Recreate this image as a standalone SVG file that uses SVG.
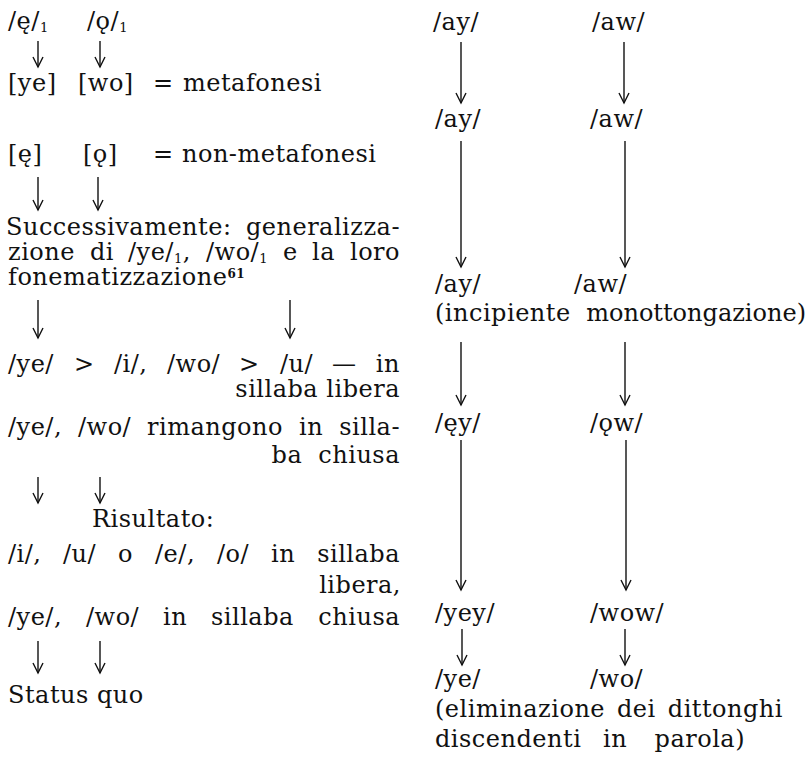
<svg xmlns="http://www.w3.org/2000/svg" width="810" height="775" viewBox="0 0 810 775">
<style>
text{font-family:"DejaVu Serif","Liberation Serif",serif;font-size:24px;letter-spacing:0.5px;fill:#111}
.e{text-anchor:end}
.tight{letter-spacing:0}
.sub{font-size:13px}
.sup{font-size:12px;font-weight:bold}
#connectors line{stroke:#111;stroke-width:1.4;fill:none;marker-end:url(#ah)}
</style>
<defs>
<marker id="ah" markerUnits="userSpaceOnUse" markerWidth="14" markerHeight="14" viewBox="-12 -7 14 14" refX="0" refY="0" orient="auto" overflow="visible">
<path d="M-10,-5 L0,0 L-10,5" fill="none" stroke="#111" stroke-width="1.4"/>
</marker>
</defs>
<rect width="810" height="775" fill="#fff"/>

<g id="connectors">
<line x1="38" y1="41" x2="38" y2="67"/>
<line x1="100" y1="41" x2="100" y2="67"/>
<line x1="38" y1="177" x2="38" y2="210"/>
<line x1="98" y1="177" x2="98" y2="210"/>
<line x1="38" y1="300" x2="38" y2="338"/>
<line x1="290" y1="300" x2="290" y2="338"/>
<line x1="38" y1="477" x2="38" y2="503"/>
<line x1="100" y1="477" x2="100" y2="503"/>
<line x1="38" y1="641" x2="38" y2="673"/>
<line x1="100" y1="641" x2="100" y2="673"/>
<line x1="461" y1="42" x2="461" y2="103"/>
<line x1="624" y1="42" x2="624" y2="103"/>
<line x1="461" y1="141" x2="461" y2="267"/>
<line x1="625" y1="141" x2="625" y2="267"/>
<line x1="461" y1="342" x2="461" y2="405"/>
<line x1="625" y1="342" x2="625" y2="405"/>
<line x1="461" y1="440" x2="461" y2="590"/>
<line x1="626" y1="440" x2="626" y2="590"/>
<line x1="462" y1="629" x2="462" y2="665"/>
<line x1="625" y1="629" x2="625" y2="665"/>
</g>

<g id="n-e1"><text x="8" y="29">/ę/<tspan class="sub" baseline-shift="-3">1</tspan></text></g>
<g id="n-o1"><text x="87" y="29">/ǫ/<tspan class="sub" baseline-shift="-3">1</tspan></text></g>

<g id="n-ye"><text x="8" y="91">[ye]</text></g>
<g id="n-wo"><text x="78" y="91">[wo]</text></g>
<g id="n-metafonesi"><text x="153" y="91">=</text><text x="183" y="91">metafonesi</text></g>

<g id="n-e"><text x="8" y="162">[ę]</text></g>
<g id="n-o"><text x="83" y="162">[ǫ]</text></g>
<g id="n-nonmetafonesi"><text x="153" y="162">=</text><text x="182" y="162">non-metafonesi</text></g>

<g id="n-successivamente">
<text x="6" y="235">Successivamente:</text>
<text class="e" x="400" y="235">generalizza-</text>
<text y="260"><tspan x="8">zione</tspan><tspan x="90">di</tspan><tspan x="128">/ye/</tspan><tspan class="sub" baseline-shift="-3">1</tspan><tspan>,</tspan><tspan x="206">/wo/</tspan><tspan class="sub" baseline-shift="-3">1</tspan><tspan x="283">e</tspan><tspan x="312">la</tspan></text>
<text class="e" x="400" y="260">loro</text>
<text x="8" y="285">fonematizzazione<tspan class="sup" baseline-shift="7">61</tspan></text>
</g>

<g id="n-ye-i">
<text y="372"><tspan x="8">/ye/</tspan><tspan x="74">&gt;</tspan><tspan x="114">/i/,</tspan><tspan x="167">/wo/</tspan><tspan x="239">&gt;</tspan><tspan x="280">/u/</tspan><tspan x="332">—</tspan></text>
<text class="e" x="400" y="372">in</text>
<text class="e" x="400" y="397">sillaba libera</text>
</g>

<g id="n-rimangono">
<text y="435"><tspan x="8">/ye/,</tspan><tspan x="78">/wo/</tspan><tspan x="147">rimangono</tspan><tspan x="299">in</tspan></text>
<text class="e" x="400" y="435">silla-</text>
<text class="e" x="400" y="463" word-spacing="8">ba chiusa</text>
</g>

<g id="n-risultato"><text x="92" y="527">Risultato:</text></g>

<g id="n-result">
<text y="562"><tspan x="8">/i/,</tspan><tspan x="63">/u/</tspan><tspan x="118">o</tspan><tspan x="155">/e/,</tspan><tspan x="217">/o/</tspan><tspan x="271">in</tspan></text>
<text class="e" x="400" y="562">sillaba</text>
<text class="e" x="401" y="593">libera,</text>
<text y="625"><tspan x="8">/ye/,</tspan><tspan x="86">/wo/</tspan><tspan x="163">in</tspan><tspan x="211">sillaba</tspan></text>
<text class="e" x="400" y="625">chiusa</text>
</g>

<g id="n-status"><text x="8" y="703">Status quo</text></g>

<g id="n-ay1"><text x="433" y="30">/ay/</text></g>
<g id="n-aw1"><text x="592" y="30">/aw/</text></g>
<g id="n-ay2"><text x="435" y="127">/ay/</text></g>
<g id="n-aw2"><text x="590" y="127">/aw/</text></g>
<g id="n-ay3"><text x="435" y="292">/ay/</text></g>
<g id="n-aw3"><text x="574" y="292">/aw/</text></g>
<g id="n-incipiente"><text x="435" y="321">(incipiente</text><text class="e tight" x="806" y="321">monottongazione)</text></g>
<g id="n-ey"><text x="435" y="431">/ęy/</text></g>
<g id="n-ow"><text x="590" y="431">/ǫw/</text></g>
<g id="n-yey"><text x="435" y="621">/yey/</text></g>
<g id="n-wow"><text x="590" y="621">/wow/</text></g>
<g id="n-ye2"><text x="435" y="687">/ye/</text></g>
<g id="n-wo2"><text x="590" y="687">/wo/</text></g>
<g id="n-eliminazione">
<text x="435" y="717">(eliminazione</text>
<text x="617" y="717">dei</text>
<text class="e" x="783" y="717">dittonghi</text>
<text x="435" y="747">discendenti</text>
<text x="603" y="747">in</text>
<text class="e" x="745" y="747">parola)</text>
</g>
</svg>
